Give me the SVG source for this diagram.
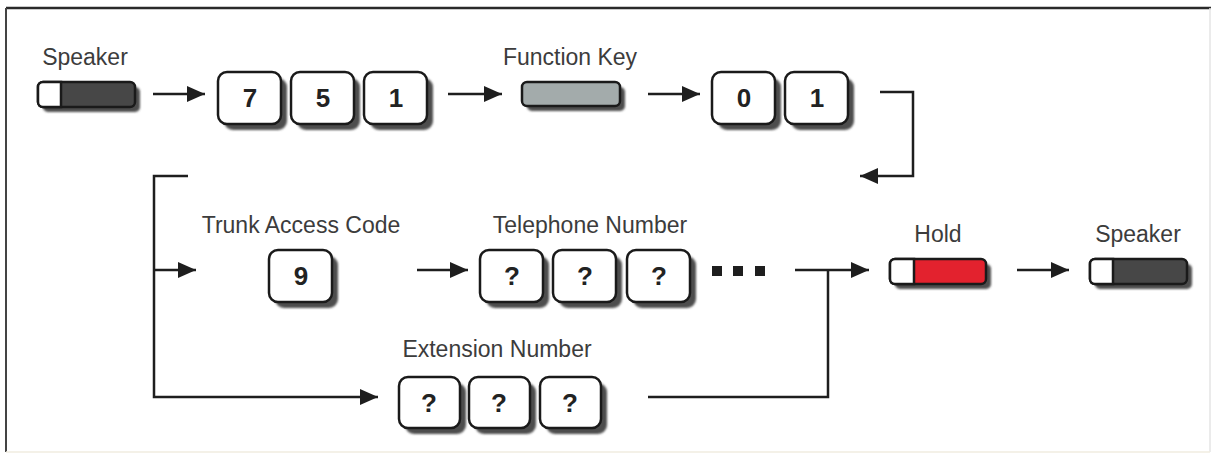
<svg xmlns="http://www.w3.org/2000/svg" xmlns:xlink="http://www.w3.org/1999/xlink" width="1214" height="456" viewBox="0 0 1214 456">
  <style>
    .lbl { font-family: "Liberation Sans", Arial, sans-serif; font-size: 23px; fill: #3c3c3c; text-anchor: middle; }
    .dig { font-family: "Liberation Sans", Arial, sans-serif; font-size: 26px; font-weight: bold; fill: #222; text-anchor: middle; }
    .key { fill: #fff; stroke: #1a1a1a; stroke-width: 2.5; }
    .shd { fill: #4d4d4d; filter: url(#soft); }
    .btn { stroke: #1a1a1a; stroke-width: 2.5; }
    .ln { fill: none; stroke: #1e1e1e; stroke-width: 2.5; }
    .arr { marker-end: url(#head); }
  </style>
  <defs>
    <filter id="soft" x="-20%" y="-20%" width="140%" height="140%">
      <feGaussianBlur stdDeviation="1.2"/>
    </filter>
    <marker id="head" markerUnits="userSpaceOnUse" markerWidth="20" markerHeight="18" refX="18" refY="8" orient="auto">
      <path d="M0,0 L18,8 L0,16 Z" fill="#1e1e1e"/>
    </marker>
    <!-- keypad key: cap with drop shadow -->
    <g id="keyCap">
      <rect class="shd" x="6" y="6" width="63" height="52" rx="9"/>
      <rect class="key" x="0" y="0" width="63" height="52" rx="9"/>
    </g>
    <g id="keyCapS">
      <rect class="shd" x="6" y="6" width="61" height="51" rx="9"/>
      <rect class="key" x="0" y="0" width="61" height="51" rx="9"/>
    </g>
  </defs>

  <rect width="1214" height="456" fill="#fff"/>
  <!-- outer frame -->
  <line x1="6" y1="8" x2="1211" y2="8" stroke="#2a2a2a" stroke-width="2.5"/>
  <line x1="6" y1="8" x2="6" y2="452" stroke="#444" stroke-width="2"/>
  <line x1="1210" y1="8" x2="1210" y2="452" stroke="#e4e4e4" stroke-width="1.5"/>
  <line x1="6" y1="452" x2="1210" y2="452" stroke="#f1ece0" stroke-width="1.5"/>

  <g id="connectors">
    <line class="ln arr" x1="153" y1="94" x2="205" y2="94"/>
    <line class="ln arr" x1="448" y1="94" x2="502" y2="94"/>
    <line class="ln arr" x1="648" y1="94" x2="700" y2="94"/>
    <path class="ln arr" d="M880,92 H913 V176 H860"/>
    <path class="ln arr" d="M188,176 H154 V397 H378"/>
    <line class="ln arr" x1="154" y1="270" x2="196" y2="270"/>
    <line class="ln arr" x1="417" y1="270" x2="468" y2="270"/>
    <line class="ln arr" x1="795" y1="270" x2="869" y2="270"/>
    <path class="ln" d="M828,270 V397 H648"/>
    <line class="ln arr" x1="1017" y1="270" x2="1069" y2="270"/>
  </g>

  <g id="speaker-start">
    <text class="lbl" x="85" y="65">Speaker</text>
    <rect class="shd" x="43" y="87" width="97" height="25" rx="5"/>
    <rect class="btn" x="38" y="82" width="97" height="25" rx="5" fill="#474747"/>
    <path d="M43,82 H61 V107 H43 A5,5 0 0 1 38,102 V87 A5,5 0 0 1 43,82 Z" fill="#fff" stroke="#1a1a1a" stroke-width="2.5"/>
  </g>

  <g id="code-751">
    <use xlink:href="#keyCap" x="218" y="72"/>
    <use xlink:href="#keyCap" x="291" y="72"/>
    <use xlink:href="#keyCap" x="364" y="72"/>
    <text class="dig" x="250" y="107">7</text>
    <text class="dig" x="323" y="107">5</text>
    <text class="dig" x="396" y="107">1</text>
  </g>

  <g id="function-key">
    <text class="lbl" x="570" y="65">Function Key</text>
    <rect class="shd" x="527" y="87" width="98" height="24" rx="5"/>
    <rect class="btn" x="522" y="82" width="98" height="24" rx="5" fill="#a3abab"/>
  </g>

  <g id="code-01">
    <use xlink:href="#keyCap" x="712" y="72"/>
    <use xlink:href="#keyCap" x="785" y="72"/>
    <text class="dig" x="744" y="107">0</text>
    <text class="dig" x="817" y="107">1</text>
  </g>

  <g id="trunk-access">
    <text class="lbl" x="301" y="233">Trunk Access Code</text>
    <use xlink:href="#keyCap" x="269" y="250"/>
    <text class="dig" x="301" y="285">9</text>
  </g>

  <g id="telephone-number">
    <text class="lbl" x="590" y="233">Telephone Number</text>
    <use xlink:href="#keyCap" x="480" y="250"/>
    <use xlink:href="#keyCap" x="553" y="250"/>
    <use xlink:href="#keyCap" x="627" y="250"/>
    <text class="dig" x="512" y="285">?</text>
    <text class="dig" x="585" y="285">?</text>
    <text class="dig" x="659" y="285">?</text>
    <rect x="712" y="266" width="10" height="10" fill="#1e1e1e"/>
    <rect x="733" y="266" width="10" height="10" fill="#1e1e1e"/>
    <rect x="755" y="266" width="10" height="10" fill="#1e1e1e"/>
  </g>

  <g id="extension-number">
    <text class="lbl" x="497" y="357">Extension Number</text>
    <use xlink:href="#keyCapS" x="399" y="377"/>
    <use xlink:href="#keyCapS" x="469" y="377"/>
    <use xlink:href="#keyCapS" x="540" y="377"/>
    <text class="dig" x="429" y="412">?</text>
    <text class="dig" x="499" y="412">?</text>
    <text class="dig" x="570" y="412">?</text>
  </g>

  <g id="hold">
    <text class="lbl" x="938" y="242">Hold</text>
    <rect class="shd" x="895" y="264" width="96" height="25" rx="5"/>
    <rect class="btn" x="890" y="259" width="96" height="25" rx="5" fill="#e3222e"/>
    <path d="M895,259 H914 V284 H895 A5,5 0 0 1 890,279 V264 A5,5 0 0 1 895,259 Z" fill="#fff" stroke="#1a1a1a" stroke-width="2.5"/>
  </g>

  <g id="speaker-end">
    <text class="lbl" x="1138" y="242">Speaker</text>
    <rect class="shd" x="1095" y="264" width="97" height="25" rx="5"/>
    <rect class="btn" x="1090" y="259" width="97" height="25" rx="5" fill="#474747"/>
    <path d="M1095,259 H1113 V284 H1095 A5,5 0 0 1 1090,279 V264 A5,5 0 0 1 1095,259 Z" fill="#fff" stroke="#1a1a1a" stroke-width="2.5"/>
  </g>
</svg>
